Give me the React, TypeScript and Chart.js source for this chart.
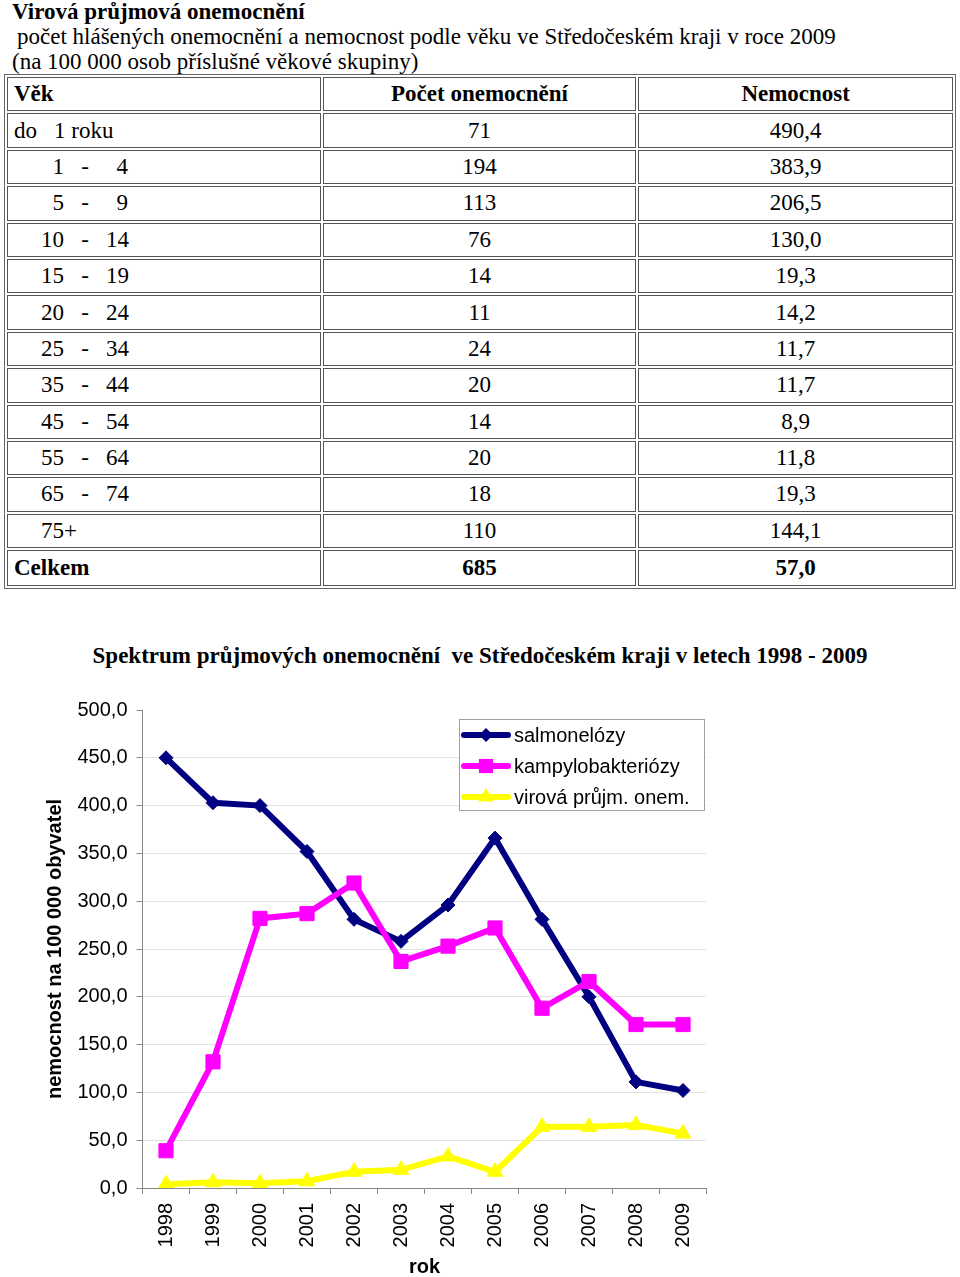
import React, { useEffect, useRef } from 'react';
import { Chart, registerables } from 'chart.js';

Chart.register(...registerables);

// ---- Table data ----
const ageGroups = ['do 1 roku', '1 - 4', '5 - 9', '10 - 14', '15 - 19', '20 - 24', '25 - 34', '35 - 44', '45 - 54', '55 - 64', '65 - 74', '75+'];
const caseCounts = [71, 194, 113, 76, 14, 11, 24, 20, 14, 20, 18, 110];
const morbidityRates = ['490,4', '383,9', '206,5', '130,0', '19,3', '14,2', '11,7', '11,7', '8,9', '11,8', '19,3', '144,1'];
const totalCount = '685';
const totalRate = '57,0';

// ---- Chart data ----
const years = ['1998', '1999', '2000', '2001', '2002', '2003', '2004', '2005', '2006', '2007', '2008', '2009'];
const salmonellosis = [450, 403, 400, 352, 281, 258, 296, 366, 281, 200, 111, 102];
const campylobacteriosis = [39, 132, 282, 287, 319, 237, 253, 272, 188, 216, 171, 171];
const viralDiarrhea = [4, 6, 5, 7, 17, 19, 33, 17, 64, 64, 66, 57];
const seriesLabels = ['salmonelózy', 'kampylobakteriózy', 'virová průjm. onem.'];
const yMin = 0;
const yMax = 500;
const yStep = 50;

const SANS = '"Liberation Sans", Arial, sans-serif';
const SERIF = '"Liberation Serif", "Times New Roman", serif';

function drawMarker(ctx: CanvasRenderingContext2D, style: string, x: number, y: number, r: number, color: string) {
  ctx.save();
  ctx.fillStyle = color;
  ctx.beginPath();
  if (style === 'rectRot') {
    ctx.moveTo(x, y - r);
    ctx.lineTo(x + r, y);
    ctx.lineTo(x, y + r);
    ctx.lineTo(x - r, y);
  } else if (style === 'rect') {
    const s = r * Math.SQRT1_2;
    ctx.rect(x - s, y - s, 2 * s, 2 * s);
  } else {
    ctx.moveTo(x, y - r);
    ctx.lineTo(x + Math.sin((2 * Math.PI) / 3) * r, y - Math.cos((2 * Math.PI) / 3) * r);
    ctx.lineTo(x + Math.sin((4 * Math.PI) / 3) * r, y - Math.cos((4 * Math.PI) / 3) * r);
  }
  ctx.closePath();
  ctx.fill();
  ctx.restore();
}

const boxLegend = {
  id: 'boxLegend',
  afterDraw(chart: any) {
    const { ctx, chartArea } = chart;
    const w = 245;
    const h = 91;
    const x = Math.round(chartArea.right - 247.5);
    const y = Math.round(chartArea.top + 9);
    ctx.save();
    ctx.fillStyle = '#ffffff';
    ctx.fillRect(x, y, w, h);
    ctx.strokeStyle = '#a0a0a0';
    ctx.lineWidth = 1;
    ctx.strokeRect(x + 0.5, y + 0.5, w, h);
    chart.data.datasets.forEach((ds: any, i: number) => {
      const cy = y + 16 + i * 31;
      ctx.strokeStyle = ds.borderColor;
      ctx.lineWidth = ds.borderWidth;
      ctx.lineCap = 'round';
      ctx.beginPath();
      ctx.moveTo(x + 5, cy);
      ctx.lineTo(x + 49, cy);
      ctx.stroke();
      drawMarker(ctx, ds.pointStyle, x + 27, cy, ds.pointRadius, ds.borderColor);
      ctx.fillStyle = '#000';
      ctx.font = `20px ${SANS}`;
      ctx.textBaseline = 'middle';
      ctx.textAlign = 'left';
      ctx.fillText(ds.label, x + 55, cy + 1);
    });
    ctx.restore();
  },
};

function AgeLabel({ text }: { text: string }) {
  const range = text.match(/^(\d+)\s*-\s*(\d+)$/);
  const plus = text.match(/^(\d+)\+$/);
  const doRoku = text.match(/^do\s+(\d+)\s+(.*)$/);
  const ib = (w: number, align: 'left' | 'right' | 'center'): React.CSSProperties => ({ display: 'inline-block', width: w, textAlign: align });
  if (range) {
    return (
      <span style={{ whiteSpace: 'nowrap' }}>
        <span style={ib(50, 'right')}>{range[1]}</span>
        <span style={ib(42, 'center')}>-</span>
        <span style={ib(22, 'right')}>{range[2]}</span>
      </span>
    );
  }
  if (plus) {
    return (
      <span style={{ whiteSpace: 'nowrap' }}>
        <span style={ib(50, 'right')}>{plus[1]}</span>+
      </span>
    );
  }
  if (doRoku) {
    return (
      <span style={{ whiteSpace: 'nowrap' }}>
        <span style={ib(40, 'left')}>do</span>
        {doRoku[1]} {doRoku[2]}
      </span>
    );
  }
  return <span>{text}</span>;
}

function LineChart() {
  const ref = useRef<HTMLCanvasElement>(null);
  useEffect(() => {
    if (!ref.current) return;
    const chart = new Chart(ref.current, {
      type: 'line',
      data: {
        labels: years,
        datasets: [
          {
            label: seriesLabels[0],
            data: salmonellosis,
            borderColor: '#000080',
            backgroundColor: '#000080',
            pointBackgroundColor: '#000080',
            pointBorderColor: '#000080',
            borderWidth: 6,
            pointStyle: 'rectRot',
            pointRadius: 7,
            pointBorderWidth: 1,
            tension: 0,
            order: 3,
          },
          {
            label: seriesLabels[1],
            data: campylobacteriosis,
            borderColor: '#ff00ff',
            backgroundColor: '#ff00ff',
            pointBackgroundColor: '#ff00ff',
            pointBorderColor: '#ff00ff',
            borderWidth: 6,
            pointStyle: 'rect',
            pointRadius: 10,
            pointBorderWidth: 1,
            tension: 0,
            order: 2,
          },
          {
            label: seriesLabels[2],
            data: viralDiarrhea,
            borderColor: '#ffff00',
            backgroundColor: '#ffff00',
            pointBackgroundColor: '#ffff00',
            pointBorderColor: '#ffff00',
            borderWidth: 6,
            pointStyle: 'triangle',
            pointRadius: 9,
            pointBorderWidth: 1,
            tension: 0,
            order: 1,
          },
        ],
      },
      options: {
        responsive: false,
        animation: false,
        layout: { padding: { top: 95, right: 253.5, bottom: 0, left: 0 } },
        plugins: {
          legend: { display: false },
          title: { display: false },
          tooltip: { enabled: false },
        },
        scales: {
          x: {
            offset: true,
            grid: {
              offset: true,
              drawOnChartArea: false,
              drawTicks: true,
              tickLength: 6,
              tickColor: '#888888',
            },
            border: { color: '#888888', width: 1 },
            ticks: {
              minRotation: 90,
              maxRotation: 90,
              autoSkip: false,
              padding: 9,
              color: '#000',
              font: { family: SANS, size: 20 },
            },
            title: {
              display: true,
              text: 'rok',
              color: '#000',
              font: { family: SANS, size: 20, weight: 'bold', lineHeight: 1 },
              padding: 0,
            },
            afterFit: (scale: any) => {
              scale.height = 89;
            },
          },
          y: {
            min: yMin,
            max: yMax,
            grid: {
              color: (c: any) => (c.tick && c.tick.value === yMax ? 'rgba(0,0,0,0)' : '#e3e3e3'),
              tickColor: '#888888',
              tickLength: 6,
              lineWidth: 1,
            },
            border: { color: '#888888', width: 1 },
            ticks: {
              stepSize: yStep,
              padding: 9,
              color: '#000',
              font: { family: SANS, size: 20 },
              callback: (v: any) => Number(v).toFixed(1).replace('.', ','),
            },
            title: {
              display: true,
              text: 'nemocnost na 100 000 obyvatel',
              color: '#000',
              font: { family: SANS, size: 20, weight: 'bold', lineHeight: 1.2 },
              padding: { top: 43, bottom: 0 },
            },
            afterFit: (scale: any) => {
              scale.width = 142.5;
            },
          },
        },
      },
      plugins: [boxLegend],
    } as any);
    return () => chart.destroy();
  }, []);
  return <canvas ref={ref} width={960} height={662} style={{ display: 'block', width: 960, height: 662 }} />;
}

export default function App() {
  const cell: React.CSSProperties = {
    border: '1px solid #555',
    height: 32.4,
    padding: '0 6px',
    fontSize: 23,
    lineHeight: '24px',
    verticalAlign: 'middle',
  };
  return (
    <div style={{ position: 'absolute', left: 0, top: 0, width: 960, height: 1277, overflow: 'hidden', background: '#fff', fontFamily: SERIF, color: '#000' }}>
      <div style={{ position: 'absolute', left: 12, top: -1, fontSize: 23, lineHeight: '25px', whiteSpace: 'pre' }}>
        <div style={{ fontWeight: 'bold' }}>Virová průjmová onemocnění</div>
        <div style={{ paddingLeft: 5 }}>počet hlášených onemocnění a nemocnost podle věku ve Středočeském kraji v roce 2009</div>
        <div>(na 100 000 osob příslušné věkové skupiny)</div>
      </div>
      <table
        style={{
          position: 'absolute',
          left: 4,
          top: 74,
          width: 952,
          borderCollapse: 'separate',
          borderSpacing: 2,
          border: '1px solid #666',
          tableLayout: 'fixed',
          fontFamily: SERIF,
        }}
      >
        <colgroup>
          <col style={{ width: '33.3%' }} />
          <col style={{ width: '33.3%' }} />
          <col style={{ width: '33.4%' }} />
        </colgroup>
        <tbody>
          <tr style={{ fontWeight: 'bold' }}>
            <td style={{ ...cell, textAlign: 'left' }}>Věk</td>
            <td style={{ ...cell, textAlign: 'center' }}>Počet onemocnění</td>
            <td style={{ ...cell, textAlign: 'center' }}>Nemocnost</td>
          </tr>
          {ageGroups.map((g, i) => (
            <tr key={g}>
              <td style={{ ...cell, textAlign: 'left' }}>
                <AgeLabel text={g} />
              </td>
              <td style={{ ...cell, textAlign: 'center' }}>{caseCounts[i]}</td>
              <td style={{ ...cell, textAlign: 'center' }}>{morbidityRates[i]}</td>
            </tr>
          ))}
          <tr style={{ fontWeight: 'bold' }}>
            <td style={{ ...cell, textAlign: 'left', height: 34 }}>Celkem</td>
            <td style={{ ...cell, textAlign: 'center', height: 34 }}>{totalCount}</td>
            <td style={{ ...cell, textAlign: 'center', height: 34 }}>{totalRate}</td>
          </tr>
        </tbody>
      </table>
      <div
        style={{
          position: 'absolute',
          left: 0,
          top: 643,
          width: 960,
          textAlign: 'center',
          fontWeight: 'bold',
          fontSize: 23,
          lineHeight: '26px',
          whiteSpace: 'pre',
        }}
      >
        {'Spektrum průjmových onemocnění  ve Středočeském kraji v letech 1998 - 2009'}
      </div>
      <div style={{ position: 'absolute', left: 0, top: 615 }}>
        <LineChart />
      </div>
    </div>
  );
}
